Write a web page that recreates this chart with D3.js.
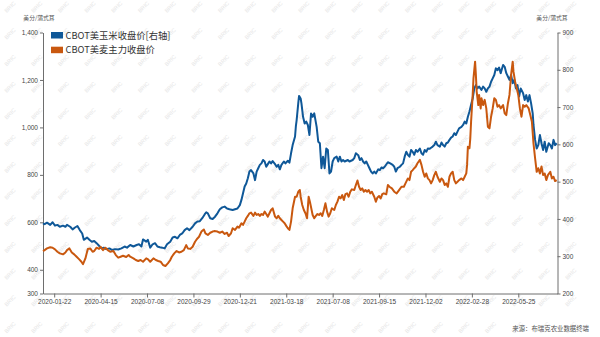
<!DOCTYPE html>
<html><head><meta charset="utf-8">
<script src="https://cdn.jsdelivr.net/npm/d3@7"></script>
<style>
html,body{margin:0;padding:0;background:#fff;}
svg{display:block;font-family:"Noto Sans CJK SC","Noto Sans",sans-serif;}
</style></head>
<body><svg id="c" width="600" height="337"></svg>
<script>
// ---- data (trading-day index, price in cents/bushel) ----
const seriesNames = ["CBOT美玉米收盘价[右轴]", "CBOT美麦主力收盘价"];
const tickDays = [14, 72, 130, 188, 246, 304, 362, 420, 478, 536, 594];
const tickLabels = ["2020-01-22","2020-04-15","2020-07-08","2020-09-29","2020-12-21","2021-03-18","2021-07-08","2021-09-15","2021-12-02","2022-02-28","2022-05-25"];
const leftTicks = [300, 400, 600, 800, 1000, 1200, 1400];
const rightTicks = [200, 300, 400, 500, 600, 700, 800, 900];

const cornDay = [0,2,5,9,12,15,18,21,25,28,30,34,37,40,43,46,49,51,55,58,61,64,67,70,73,76,79,83,86,90,94,98,102,105,109,113,117,120,123,125,129,131,134,137,140,143,146,149,152,155,159,162,165,168,171,174,177,180,183,187,190,193,196,199,202,204,206,209,212,215,
218,221,224,227,230,233,237,240,243,246,248,250,252,254,256,258,260,263,265,267,269,271,273,275,277,279,281,283,285,287,290,292,294,296,298,301,303,306,308,310,312,315,316,317,319,320,322,323,325,327,329,331,333,335,337,339,342,344,346,348,350,352,354,356,358,360,362,364,367,369,371,373,375,377,379,381,383,385,387,389,391,394,396,398,400,402,404,406,408,410,412,414,416,419,421,423,425,427,
431,434,437,439,441,443,446,448,450,452,454,456,458,460,462,464,466,468,471,473,475,477,479,481,483,485,487,489,491,493,496,498,500,502,504,506,508,510,512,514,516,518,520,523,525,527,529,531,533,535,537,539,541,543,545,548,550,552,554,556,558,560,562,564,566,568,570,572,575,577,579,581,583,585,587,589,591,593,595,597,600,602,604,606,608,610,612,613,615,617,619,621,623,625,627,629,632,634,636,638,640,642];
const cornPrice = [388,386,390,384,391,382,384,379,382,379,384,379,372,377,381,370,361,344,350,344,339,341,335,328,321,323,319,321,317,319,318,321,326,323,330,326,330,332,326,345,339,344,323,332,335,326,324,323,321,332,339,350,352,348,357,361,370,375,370,379,388,393,394,402,412,418,415,402,400,406,
415,426,431,433,428,426,424,426,428,437,451,469,487,495,509,527,531,522,504,527,536,545,549,558,554,540,547,554,549,555,547,540,545,533,545,554,549,556,551,576,598,621,648,665,710,730,723,710,674,656,661,652,625,683,674,683,647,607,603,536,567,536,589,585,522,527,554,563,567,554,567,554,558,554,556,558,554,556,558,563,576,571,558,563,554,549,554,545,536,527,522,527,522,533,531,538,536,540,
552,549,545,540,527,536,540,545,549,567,580,572,567,585,580,572,585,580,589,576,572,585,580,589,588,591,594,598,607,598,594,605,598,594,603,605,612,618,621,630,625,634,643,647,652,661,656,674,688,706,723,750,759,750,755,746,755,750,741,750,755,768,777,786,804,799,806,791,813,808,791,782,773,786,764,773,750,759,728,750,737,719,732,715,732,710,683,652,612,589,598,625,603,585,607,580,603,598,589,612,598,603];

const wheatDay = [0,2,5,9,12,15,18,21,25,28,30,33,36,39,42,45,48,50,53,56,59,62,64,67,70,72,75,78,81,84,88,91,94,97,100,104,107,109,113,116,119,122,125,129,131,134,138,141,144,147,150,153,156,159,161,164,167,170,173,176,179,181,184,187,190,193,195,198,201,203,206,209,212,214,
218,221,224,227,230,232,235,237,240,243,245,248,250,252,254,256,258,260,263,265,267,269,271,273,275,277,279,281,283,285,287,290,292,294,296,298,300,302,304,306,308,310,312,315,317,319,321,322,324,326,328,330,332,334,337,339,341,343,345,347,349,351,353,355,357,359,361,364,366,368,370,372,374,376,378,380,382,384,386,389,391,393,395,397,399,401,403,405,407,409,411,414,416,418,420,422,424,426,
429,431,433,436,439,442,445,448,451,453,456,458,460,462,464,466,468,471,473,475,477,479,481,483,485,487,489,491,493,496,498,500,502,504,506,508,510,512,514,516,518,520,523,525,527,529,530,531,533,534,535,537,538,540,541,542,544,545,547,548,550,552,554,556,558,560,562,564,566,568,570,572,575,577,579,581,583,585,587,588,590,592,594,596,598,600,602,604,607,609,611,613,615,617,619,621,623,625,627,629,631,634,636,638,640,642];
const wheatPrice = [479,483,490,495,493,486,476,469,465,473,483,490,473,465,455,445,434,424,448,488,490,476,479,493,488,497,483,493,483,476,479,462,451,455,459,454,462,455,448,441,437,441,434,448,445,434,448,441,437,434,420,416,427,441,455,469,479,473,476,483,504,490,488,497,518,532,539,561,570,553,547,556,561,563,
561,556,561,551,556,542,554,575,568,582,577,596,589,603,617,627,638,641,627,641,631,635,627,635,631,645,635,624,638,652,659,624,617,627,617,610,603,596,585,575,568,603,659,708,708,729,736,708,673,652,638,617,708,680,631,617,627,635,631,638,627,652,680,645,624,638,659,652,673,687,708,701,715,694,719,722,708,729,739,736,757,776,750,736,743,729,736,729,736,722,729,708,687,705,711,701,719,722,
718,757,750,743,729,722,736,750,750,764,785,778,813,820,828,835,849,863,842,813,792,806,785,778,764,778,799,813,792,771,785,778,757,764,750,792,806,813,778,764,771,778,785,778,792,806,842,919,912,954,1024,1137,1207,1277,1221,1151,1094,1137,1080,1123,1094,1116,1080,1003,996,1045,1080,1123,1116,1087,1094,1080,1094,1059,1052,1101,1137,1221,1277,1235,1193,1165,1137,1080,1045,1094,1087,1094,1080,1052,1024,933,870,813,828,806,835,799,806,778,799,813,785,792,774,778];

const colors = ["#0f5898", "#c9580f"];

// ---- chart ----
const svg = d3.select("#c");
const W = 600, H = 337;
const mLeft = 43, mRight = 557.5, mTop = 32.5, mBottom = 293.5;

svg.append("rect").attr("width", W).attr("height", H).attr("fill", "#fff");

// watermark
const wm = svg.append("g").attr("fill", "#e6e6e6").attr("font-size", 5.5)
  .attr("font-family", "Liberation Sans, sans-serif");
for (let gx = 10; gx < W - 8; gx += 26.7) {
  for (let gy = 7; gy < H - 6; gy += 26.7) {
    wm.append("text").attr("transform", `translate(${gx},${gy}) rotate(-45)`)
      .attr("text-anchor", "middle").attr("dy", "0.35em").text("BRIC");
  }
}

const x = d3.scaleLinear().domain([0, 643]).range([mLeft, mRight]);
const yL = d3.scaleLinear().domain([300, 1400]).range([mBottom, mTop]);
const yR = d3.scaleLinear().domain([200, 900]).range([mBottom, mTop]);

const axisColor = "#6e6e6e";
const labelColor = "#444";

function styleAxis(g, fs) {
  g.select(".domain").attr("stroke", axisColor).attr("stroke-width", 1);
  g.selectAll(".tick line").attr("stroke", axisColor);
  g.selectAll(".tick text").attr("fill", labelColor).attr("font-size", fs)
    .attr("font-family", "Liberation Sans, Noto Sans, sans-serif");
}

const gL = svg.append("g").attr("transform", `translate(${mLeft},0)`)
  .call(d3.axisLeft(yL).tickValues(leftTicks).tickFormat(d3.format(",")).tickSize(3).tickSizeOuter(0).tickPadding(2));
styleAxis(gL, 6.5);

const gR = svg.append("g").attr("transform", `translate(${mRight},0)`)
  .call(d3.axisRight(yR).tickValues(rightTicks).tickSize(3).tickSizeOuter(0).tickPadding(2));
styleAxis(gR, 6.5);

const gX = svg.append("g").attr("transform", `translate(0,${mBottom})`)
  .call(d3.axisBottom(x).tickValues(tickDays).tickFormat((d, i) => tickLabels[i]).tickSize(4).tickSizeOuter(0).tickPadding(2));
styleAxis(gX, 6.5);

// axis titles
svg.append("text").attr("x", 39).attr("y", 20).attr("text-anchor", "middle")
  .attr("font-size", 5.8).attr("fill", "#555").text("美分/蒲式耳");
svg.append("text").attr("x", 552).attr("y", 20).attr("text-anchor", "middle")
  .attr("font-size", 5.8).attr("fill", "#555").text("美分/蒲式耳");

// lines
const lineL = d3.line().x((d, i) => x(wheatDay[i])).y(d => yL(d)).curve(d3.curveLinear);
const lineR = d3.line().x((d, i) => x(cornDay[i])).y(d => yR(d)).curve(d3.curveLinear);

svg.append("path").datum(cornPrice).attr("d", lineR).attr("fill", "none")
  .attr("stroke", colors[0]).attr("stroke-width", 2).attr("stroke-linejoin", "round");
svg.append("path").datum(wheatPrice).attr("d", lineL).attr("fill", "none")
  .attr("stroke", colors[1]).attr("stroke-width", 2).attr("stroke-linejoin", "round");

// legend
const lg = svg.append("g");
seriesNames.forEach((name, i) => {
  const yy = 32 + i * 14.7;
  lg.append("rect").attr("x", 51).attr("y", yy).attr("width", 12).attr("height", 6.5).attr("fill", colors[i]);
  lg.append("text").attr("x", 65.5).attr("y", yy + 3.4).attr("dy", "0.35em")
    .attr("font-size", 9.3).attr("fill", "#333").text(name);
});

// source
svg.append("text").attr("x", 589).attr("y", 331).attr("text-anchor", "end")
  .attr("font-size", 6.4).attr("fill", "#555").text("来源：布瑞克农业数据终端");
</script></body></html>
